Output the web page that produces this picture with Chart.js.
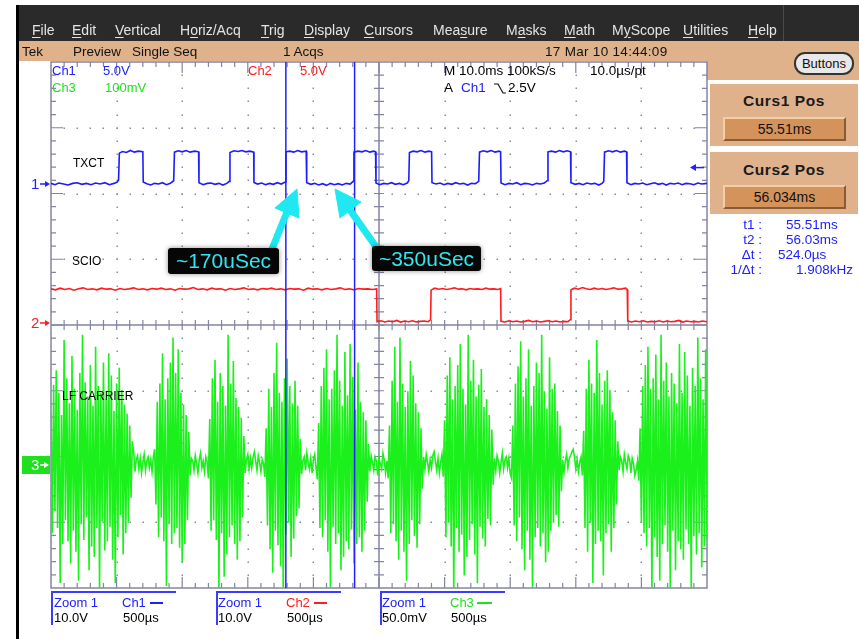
<!DOCTYPE html>
<html>
<head>
<meta charset="utf-8">
<script src="https://cdn.jsdelivr.net/npm/chart.js@4.4.1/dist/chart.umd.min.js"></script>
<style>
  html, body { margin: 0; padding: 0; background: #fff; }
  #scope { position: relative; width: 859px; height: 639px; overflow: hidden;
           font-family: "Liberation Sans", Arial, sans-serif; }
  #plot { position: absolute; left: 0; top: 0; z-index: 1; }
  .t { position: absolute; white-space: nowrap; line-height: 16px; font-size: 13px; z-index: 2; }
  #frameL { position: absolute; left: 16px; top: 5px; width: 3px; height: 634px; background: #000; z-index: 3; }
  #menu { position: absolute; left: 16px; top: 5px; width: 843px; height: 36px; background: #2a2a2a; }
  #menu .t { color: #e4e4e4; font-size: 14px; top: 17px; }
  #menu u { text-decoration: underline; text-underline-offset: 2px; }
  #menuSep { position: absolute; left: 767px; top: 0; width: 1px; height: 36px; background: #4a4a4a; }
  #status { position: absolute; left: 19px; top: 41px; width: 840px; height: 20px; background: #dfb28c; }
  #status .t { font-size: 13.5px; top: 3px; color: #111; }
  .panel { position: absolute; background: #dfb28c; }
  .title { position: absolute; left: 0; width: 100%; text-align: center; font-weight: bold;
           font-size: 15.5px; letter-spacing: 0.6px; color: #1a1a1a; line-height: 18px; }
  .valbox { position: absolute; left: 13px; width: 119px; height: 20px; background: #d5935c;
            border-top: 2px solid #f2cfa8; border-left: 2px solid #f2cfa8;
            border-right: 2px solid #8c5a30; border-bottom: 2px solid #8c5a30;
            text-align: center; font-size: 14px; line-height: 20px; color: #111; }
  #btn { position: absolute; left: 794px; top: 52px; width: 56px; height: 19px; border: 2px solid #333;
         border-radius: 11px; background: #e8e8e8; font-size: 13px; line-height: 19px; text-align: center; color: #111; }
  .blue { color: #2020ff; }
  .red { color: #ff1c1c; }
  .green { color: #1fe01f; }
  .zbox { position: absolute; top: 591px; width: 123px; height: 32px;
          border-top: 2px solid #3c3cff; border-left: 2px solid #3c3cff; }
  .dash { position: absolute; height: 2px; }
  .callout { position: absolute; background: #060606; border-radius: 3px; z-index: 6;
             box-shadow: 0 0 5px rgba(0,0,0,0.45); color: #2fe6ee; font-size: 21px;
             line-height: 26px; text-align: center; }
  #ann { position: absolute; left: 0; top: 0; z-index: 5; pointer-events: none; }
  .mk { position: absolute; font-size: 15px; line-height: 16px; z-index: 2; }
  #m3 { position: absolute; left: 22px; top: 456px; width: 28px; height: 18px; background: #1fe01f; z-index: 2; }
</style>
</head>
<body>
<div id="scope">
  <div id="menu">
    <span class="t" style="left:16px"><u>F</u>ile</span>
    <span class="t" style="left:56px"><u>E</u>dit</span>
    <span class="t" style="left:99px"><u>V</u>ertical</span>
    <span class="t" style="left:164px">H<u>o</u>riz/Acq</span>
    <span class="t" style="left:245px"><u>T</u>rig</span>
    <span class="t" style="left:288px"><u>D</u>isplay</span>
    <span class="t" style="left:348px"><u>C</u>ursors</span>
    <span class="t" style="left:417px">Mea<u>s</u>ure</span>
    <span class="t" style="left:490px">M<u>a</u>sks</span>
    <span class="t" style="left:548px"><u>M</u>ath</span>
    <span class="t" style="left:596px">M<u>y</u>Scope</span>
    <span class="t" style="left:667px"><u>U</u>tilities</span>
    <span class="t" style="left:732px"><u>H</u>elp</span>
    <div id="menuSep"></div>
  </div>
  <div id="status">
    <span class="t" style="left:3px">Tek</span>
    <span class="t" style="left:54px">Preview</span>
    <span class="t" style="left:113px">Single Seq</span>
    <span class="t" style="left:264px">1 Acqs</span>
    <span class="t" style="left:526px;letter-spacing:0.3px">17 Mar 10 14:44:09</span>
  </div>
  <div class="panel" style="left:707px;top:61px;width:152px;height:19px"></div>
  <div id="btn">Buttons</div>
  <div class="panel" style="left:710px;top:84px;width:148px;height:62px">
    <div class="title" style="top:8px">Curs1 Pos</div>
    <div class="valbox" style="top:33px">55.51ms</div>
  </div>
  <div class="panel" style="left:710px;top:152px;width:148px;height:62px">
    <div class="title" style="top:9px">Curs2 Pos</div>
    <div class="valbox" style="top:33px">56.034ms</div>
  </div>

  <span class="t blue" style="left:722px;top:217px;width:40px;text-align:right;font-size:13.5px">t1 :</span>
  <span class="t blue" style="left:786px;top:217px;font-size:13.5px">55.51ms</span>
  <span class="t blue" style="left:722px;top:232px;width:40px;text-align:right;font-size:13.5px">t2 :</span>
  <span class="t blue" style="left:786px;top:232px;font-size:13.5px">56.03ms</span>
  <span class="t blue" style="left:722px;top:247px;width:40px;text-align:right;font-size:13.5px">Δt :</span>
  <span class="t blue" style="left:778px;top:247px;font-size:13.5px">524.0µs</span>
  <span class="t blue" style="left:712px;top:262px;width:50px;text-align:right;font-size:13.5px">1/Δt :</span>
  <span class="t blue" style="left:796px;top:262px;font-size:13.5px">1.908kHz</span>

  <canvas id="plot" width="859" height="639"></canvas>
  <div id="frameL"></div>

  <!-- readouts inside the graticule -->
  <span class="t blue" style="left:52px;top:63px">Ch1</span>
  <span class="t blue" style="left:103px;top:63px">5.0V</span>
  <span class="t red" style="left:248px;top:63px">Ch2</span>
  <span class="t red" style="left:300px;top:63px">5.0V</span>
  <span class="t green" style="left:52px;top:80px">Ch3</span>
  <span class="t green" style="left:105px;top:80px">100mV</span>
  <span class="t" style="left:444px;top:63px;font-size:13.5px">M 10.0ms 100kS/s</span>
  <span class="t" style="left:590px;top:63px;font-size:13.5px">10.0µs/pt</span>
  <span class="t" style="left:444px;top:80px;font-size:13.5px">A</span>
  <span class="t blue" style="left:461px;top:80px;font-size:13.5px">Ch1</span>
  <span class="t" style="left:508px;top:80px;font-size:13.5px">2.5V</span>
  <span class="t" style="left:73px;top:155px;font-size:12px">TXCT</span>
  <span class="t" style="left:72px;top:253px;font-size:12px">SCIO</span>
  <span class="t" style="left:62px;top:388px;font-size:12px">LF CARRIER</span>

  <!-- channel ground markers -->
  <span class="mk blue" style="left:31px;top:176px">1</span>
  <span class="mk red" style="left:31px;top:315px">2</span>
  <div id="m3"><span class="mk" style="left:9px;top:1px;color:#fff">3</span></div>

  <!-- zoom readouts -->
  <div class="zbox" style="left:51px"></div>
  <span class="t blue" style="left:54px;top:595px">Zoom 1</span>
  <span class="t blue" style="left:122px;top:595px">Ch1</span>
  <div class="dash" style="left:150px;top:602px;width:13px;background:#2020ff"></div>
  <span class="t" style="left:54px;top:610px">10.0V</span>
  <span class="t" style="left:123px;top:610px">500µs</span>

  <div class="zbox" style="left:216px"></div>
  <span class="t blue" style="left:218px;top:595px">Zoom 1</span>
  <span class="t red" style="left:286px;top:595px">Ch2</span>
  <div class="dash" style="left:314px;top:602px;width:13px;background:#ff1c1c"></div>
  <span class="t" style="left:218px;top:610px">10.0V</span>
  <span class="t" style="left:287px;top:610px">500µs</span>

  <div class="zbox" style="left:380px"></div>
  <span class="t blue" style="left:382px;top:595px">Zoom 1</span>
  <span class="t green" style="left:450px;top:595px">Ch3</span>
  <div class="dash" style="left:477px;top:602px;width:15px;background:#1fe01f"></div>
  <span class="t" style="left:382px;top:610px">50.0mV</span>
  <span class="t" style="left:451px;top:610px">500µs</span>

  <svg id="ann" width="859" height="639">
    <!-- ground marker arrows -->
    <g stroke-width="1.5">
      <line x1="40" y1="184" x2="47" y2="184" stroke="#2020ff"/>
      <polygon points="50,184 45,181 45,187" fill="#2020ff"/>
      <line x1="40" y1="323" x2="47" y2="323" stroke="#ff1c1c"/>
      <polygon points="50,323 45,320 45,326" fill="#ff1c1c"/>
      <line x1="40" y1="465" x2="46" y2="465" stroke="#fff"/>
      <polygon points="49,465 44,462 44,468" fill="#fff"/>
    </g>
    <!-- falling-slope symbol -->
    <polyline points="494,84 498,84 503,93 506,93" fill="none" stroke="#111" stroke-width="1.2"/>
    <!-- callout arrows -->
    <g fill="#1fe8f0" stroke="#1fe8f0">
      <line x1="270" y1="254" x2="287" y2="212" stroke-width="7"/>
      <polygon points="297,189 299,218 275,208" stroke-width="1"/>
      <line x1="379" y1="251" x2="350" y2="210" stroke-width="7"/>
      <polygon points="335,189 361,202 340,218" stroke-width="1"/>
    </g>
  </svg>

  <div class="callout" style="left:168px;top:248px;width:111px;height:26px">~170uSec</div>
  <div class="callout" style="left:372px;top:246px;width:109px;height:25px">~350uSec</div>
</div>

<script>
// Horizontal setup: 10 divisions of 500 µs, left edge of the record window
const screenStartMs = 53.72;
const screenSpanMs = 5.0;
const samplePeriodUs = 10;            // 10.0 µs/pt
const cursorPosMs = [55.51, 56.034];  // Curs1 / Curs2
const triggerLevelV = 2.5;            // A Ch1 falling 2.5V

// Vertical setup (volts per division, ground position in divisions from centre)
const ch1VoltsPerDiv = 10;
const ch1GroundDiv = 2.144;
const ch2VoltsPerDiv = 10;
const ch2GroundDiv = 0.03;
const ch3mVPerDiv = 50;
const ch3GroundDiv = -2.129;

// Ch1 TXCT: [time µs from left edge, volts]
const ch1Points = [
  [0,0.1],[30,-0.1],[60,0.15],[95,0],[130,-0.15],[165,0.1],[200,0.2],[235,-0.05],[270,0.1],[305,-0.1],
  [340,0.15],[375,0],[410,0.2],[445,-0.1],[480,0.1],[505,0.3],[515,0.6],
  [521,4.7],[545,4.95],[575,4.8],[605,5.1],[635,4.85],[665,5.0],[700,4.9],
  [703,0.3],[730,0.05],[760,-0.15],[790,0.1],[820,0],[850,0.2],[880,-0.1],[910,0.1],[935,0.5],
  [941,4.85],[970,5.05],[1000,4.9],[1030,5.1],[1060,4.85],[1095,5.0],[1125,4.9],
  [1128,0.2],[1160,-0.1],[1190,0.1],[1220,0.15],[1250,-0.05],[1280,0.1],[1310,-0.15],[1340,0.1],[1358,0.4],
  [1364,4.8],[1395,5.05],[1425,4.95],[1455,5.1],[1485,4.9],[1515,5.0],[1545,4.85],
  [1547,0.25],[1575,0],[1605,0.15],[1635,-0.1],[1665,0.1],[1695,-0.05],[1725,0.2],[1755,0],[1785,0.3],
  [1791,4.9],[1820,5.0],[1850,4.85],[1880,5.1],[1910,4.9],[1945,5.0],
  [1949,0.2],[1980,-0.05],[2010,0.1],[2040,-0.15],[2070,0.05],[2100,-0.2],[2130,0.1],[2160,-0.1],[2190,0.05],
  [2220,-0.15],[2250,0.1],[2280,0],[2303,0.4],
  [2309,4.85],[2340,5.0],[2370,4.9],[2400,5.1],[2430,4.85],[2460,5.0],[2474,4.9],
  [2477,0.15],[2505,-0.1],[2535,0.1],[2565,0],[2595,0.2],[2625,-0.05],[2655,0.1],[2685,-0.1],[2715,0.15],[2727,0.5],
  [2732,4.8],[2760,5.0],[2790,4.9],[2820,5.1],[2850,4.85],[2880,5.0],[2901,4.9],
  [2904,0.2],[2935,0],[2965,0.15],[2995,-0.1],[3025,0.1],[3055,-0.05],[3085,0.2],[3115,0],[3145,0.1],
  [3175,-0.15],[3205,0.1],[3235,0.05],[3260,0.4],
  [3266,4.85],[3295,5.05],[3325,4.9],[3355,5.1],[3385,4.85],[3415,5.0],[3427,4.9],
  [3430,0.15],[3460,-0.1],[3490,0.1],[3520,0],[3550,0.2],[3580,-0.1],[3610,0.1],[3640,0.05],[3670,-0.15],
  [3700,0.1],[3730,0],[3760,0.15],[3782,0.5],
  [3788,4.9],[3815,5.0],[3845,4.85],[3875,5.1],[3905,4.9],[3935,5.05],[3960,4.9],
  [3963,0.2],[3995,-0.05],[4025,0.1],[4055,-0.1],[4085,0.15],[4115,0],[4145,0.1],[4175,-0.15],[4200,0.1],[4213,0.4],
  [4219,4.85],[4250,5.05],[4280,4.9],[4310,5.1],[4340,4.85],[4370,5.0],[4387,4.9],
  [4390,0.2],[4420,-0.1],[4450,0.1],[4480,0],[4510,0.15],[4540,-0.1],[4570,0.05],[4600,0.2],[4630,-0.05],
  [4660,0.1],[4690,-0.15],[4720,0.1],[4750,0],[4780,0.15],[4810,-0.1],[4840,0.1],[4870,0.05],[4900,-0.1],
  [4930,0.15],[4960,0],[5000,0.1]
];

// Ch2 SCIO: [time µs from left edge, volts]
const ch2Points = [
  [0,5.2],[35,5.05],[70,5.3],[105,5.1],[140,5.25],[175,5.0],[210,5.2],[245,5.35],[280,5.1],[315,5.2],
  [350,5.05],[385,5.3],[420,5.15],[455,5.2],[490,5.0],[525,5.25],[560,5.1],[595,5.2],[630,5.35],[665,5.1],
  [700,5.2],[735,5.05],[770,5.25],[805,5.15],[840,5.3],[875,5.1],[910,5.2],[945,5.0],[980,5.25],[1015,5.15],
  [1050,5.2],[1085,5.4],[1120,5.1],[1155,5.2],[1190,5.05],[1225,5.3],[1260,5.15],[1295,5.2],[1330,5.0],
  [1365,5.25],[1400,5.1],[1435,5.2],[1470,5.35],[1505,5.1],[1540,5.2],[1575,5.05],[1610,5.25],[1645,5.15],
  [1680,5.3],[1715,5.1],[1750,5.2],[1785,5.05],[1820,5.25],[1855,5.15],[1890,5.2],[1925,5.0],[1960,5.3],
  [1995,5.15],[2030,5.2],[2065,5.05],[2100,5.25],[2135,5.1],[2170,5.2],[2205,5.35],[2240,5.1],[2275,5.2],
  [2310,5.05],[2345,5.25],[2380,5.15],[2415,5.2],[2450,5.1],[2482,5.2],
  [2485,0.2],[2515,0.35],[2545,0.15],[2575,0.3],[2605,0.2],[2635,0.4],[2665,0.15],[2695,0.3],[2725,0.2],
  [2755,0.35],[2785,0.15],[2815,0.25],[2845,0.3],[2875,0.2],[2893,0.5],
  [2897,5.0],[2925,5.3],[2955,5.15],[2985,5.25],[3015,5.1],[3045,5.2],[3075,5.35],[3105,5.15],[3135,5.2],
  [3165,5.05],[3195,5.25],[3225,5.15],[3255,5.2],[3285,5.1],[3315,5.3],[3345,5.15],[3375,5.2],[3405,5.1],[3427,5.25],
  [3430,0.25],[3460,0.15],[3490,0.35],[3520,0.2],[3550,0.3],[3580,0.15],[3610,0.25],[3640,0.4],[3670,0.2],
  [3700,0.3],[3730,0.15],[3760,0.25],[3790,0.35],[3820,0.2],[3850,0.3],[3880,0.15],[3910,0.25],[3940,0.2],[3958,0.5],
  [3963,5.05],[3990,5.3],[4020,5.15],[4050,5.4],[4080,5.2],[4110,5.1],[4140,5.3],[4170,5.15],[4200,5.25],
  [4230,5.1],[4260,5.2],[4290,5.35],[4320,5.15],[4350,5.2],[4380,5.3],[4392,5.1],
  [4396,0.3],[4425,0.15],[4455,0.3],[4485,0.2],[4515,0.35],[4545,0.15],[4575,0.25],[4605,0.2],[4635,0.35],
  [4665,0.15],[4695,0.3],[4725,0.2],[4755,0.25],[4785,0.4],[4815,0.15],[4845,0.3],[4875,0.2],[4905,0.25],
  [4935,0.15],[4965,0.3],[5000,0.2]
];

// Ch3 LF carrier, one sample per 10 µs (mV)
const ch3mV = [
  40,-52,61,-35,72,-48,55,-90,38,-60,95,-42,66,-58,47,-75,83,-50,58,-66,42,-88,70,-45,99,-57,63,-40,52,-80,
  76,-62,45,-70,90,-48,60,-95,55,-43,78,-65,50,-58,85,-47,68,-72,41,-90,62,-55,74,-38,57,-68,46,-52,39,-44,
  30,-25,18,
  10,-5,4,7,-3,5,-6,2,8,-4,3,6,-2,4,-5,6,12,
  -30,48,-55,62,-40,85,-58,50,-92,66,-45,78,-60,97,-52,70,-48,88,-63,55,-74,46,-60,38,-42,25,
  -8,5,3,-4,7,1,-6,4,9,-2,3,-5,6,2,-10,
  35,-50,66,-42,80,-57,48,-96,70,-52,60,-85,45,-68,99,-55,62,-46,79,-60,51,-72,44,-58,36,-40,22,
  -6,4,8,-3,5,-2,6,10,3,-4,7,2,-5,4,1,-9,
  28,-46,58,-64,44,-82,70,-50,93,-61,55,-77,48,-98,66,-53,81,-44,60,-70,47,-56,64,-39,45,-33,20,
  -7,3,6,-4,9,2,-3,5,-6,4,8,-2,-11,
  32,-48,60,-55,74,-42,88,-66,50,-95,58,-47,72,-60,99,-52,64,-80,45,-70,86,-58,53,-64,92,-49,67,-75,42,-60,
  78,-55,48,-66,40,-50,34,-28,16,
  -5,7,2,-4,6,3,-8,5,1,-3,9,4,-6,3,-10,
  30,-52,64,-45,90,-58,48,-72,97,-50,62,-66,44,-88,56,-60,79,-42,68,-54,47,-63,40,-45,28,-18,
  6,-3,8,2,-5,4,-2,7,10,3,-4,5,-6,2,8,-9,
  34,-55,68,-44,82,-62,50,-98,60,-48,76,-66,92,-53,58,-84,46,-70,99,-57,64,-45,80,-68,52,-90,61,-47,73,-56,
  44,-62,50,-41,38,-46,27,-15,
  5,-4,7,3,-6,2,9,-3,4,6,-2,5,-7,-10,
  30,-46,62,-58,75,-40,94,-64,52,-80,66,-50,88,-72,45,-96,60,-55,78,-48,70,-62,99,-52,56,-74,43,-66,82,-50,
  58,-44,62,-38,41,-47,30,-20,
  4,-6,3,8,-2,5,7,10,12,6,-3,4,-5,2,6,-8,
  26,-48,58,-66,80,-44,62,-90,55,-60,95,-50,70,-58,46,-84,64,-52,72,-45,57,-66,40,-48,34,-30,18,
  -4,6,3,-5,8,2,-3,7,4,-6,5,1,-8,-4,3,-12,
  28,-44,60,-52,76,-62,90,-48,58,-98,66,-55,84,-70,50,-88,99,-60,64,-46,78,-66,52,-94,70,-50,62,-80,47,-58,
  92,-64,55,-72,86,-49,68,-60,45,-96,74,-54,60,-68,97,-52,66,-78,50,-62,88,-56
];

const toMs = us => screenStartMs + us / 1000;
const ch1Data = ch1Points.map(([t, v]) => ({ x: toMs(t), y: ch1GroundDiv + v / ch1VoltsPerDiv }));
const ch2Data = ch2Points.map(([t, v]) => ({ x: toMs(t), y: ch2GroundDiv + v / ch2VoltsPerDiv }));
const ch3Data = ch3mV.map((v, i) => ({ x: toMs(i * samplePeriodUs), y: ch3GroundDiv + v / ch3mVPerDiv }));

// Tek-style graticule: dotted divisions, solid frame and centre cross with minor ticks
const graticule = {
  id: 'graticule',
  beforeDatasetsDraw(chart) {
    const { ctx, chartArea: a } = chart;
    const L = a.left, R = a.right, T = a.top, B = a.bottom;
    const dx = (R - L) / 10, dy = (B - T) / 8;
    const cx = L + 5 * dx, cy = T + 4 * dy;
    ctx.save();
    ctx.fillStyle = '#8c8ca0';
    for (let i = 1; i < 10; i++) {
      if (i === 5) continue;
      const gx = Math.round(L + i * dx);
      for (let j = 1; j < 40; j++) ctx.fillRect(gx - 0.5, Math.round(T + j * dy / 5) - 0.5, 1.5, 1.5);
    }
    for (let j = 1; j < 8; j++) {
      if (j === 4) continue;
      const gy = Math.round(T + j * dy);
      for (let i = 1; i < 50; i++) ctx.fillRect(Math.round(L + i * dx / 5) - 0.5, gy - 0.5, 1.5, 1.5);
    }
    ctx.strokeStyle = '#8484a4';
    ctx.lineWidth = 1.5;
    ctx.strokeRect(L, T, R - L, B - T);
    ctx.beginPath();
    ctx.moveTo(L, cy); ctx.lineTo(R, cy);
    ctx.moveTo(cx, T); ctx.lineTo(cx, B);
    ctx.stroke();
    ctx.lineWidth = 1.2;
    ctx.beginPath();
    for (let i = 1; i < 50; i++) {
      const x = L + i * dx / 5, major = i % 5 === 0;
      const len = major ? 11 : 5;
      ctx.moveTo(x, T); ctx.lineTo(x, T + len);
      ctx.moveTo(x, B); ctx.lineTo(x, B - len);
      ctx.moveTo(x, cy - 5); ctx.lineTo(x, cy + 5);
    }
    for (let j = 1; j < 40; j++) {
      const y = T + j * dy / 5, major = j % 5 === 0;
      const len = major ? 12 : 5;
      ctx.moveTo(L, y); ctx.lineTo(L + len, y);
      ctx.moveTo(R, y); ctx.lineTo(R - len, y);
      ctx.moveTo(cx - 5, y); ctx.lineTo(cx + 5, y);
    }
    ctx.stroke();
    ctx.restore();
  },
  afterDatasetsDraw(chart) {
    const { ctx, chartArea: a, scales: { x, y } } = chart;
    ctx.save();
    // cursors
    ctx.strokeStyle = '#2222ff';
    ctx.lineWidth = 1.5;
    ctx.beginPath();
    cursorPosMs.forEach(ms => {
      const px = x.getPixelForValue(ms);
      ctx.moveTo(px, a.top); ctx.lineTo(px, a.bottom);
    });
    ctx.stroke();
    // trigger level marker on the right edge
    const ty = y.getPixelForValue(ch1GroundDiv + triggerLevelV / ch1VoltsPerDiv);
    ctx.fillStyle = '#2222ff';
    ctx.beginPath();
    ctx.moveTo(a.right - 3, ty); ctx.lineTo(a.right - 12, ty);
    ctx.stroke();
    ctx.beginPath();
    ctx.moveTo(a.right - 17, ty); ctx.lineTo(a.right - 11, ty - 3.5); ctx.lineTo(a.right - 11, ty + 3.5);
    ctx.closePath(); ctx.fill();
    ctx.restore();
  }
};

new Chart(document.getElementById('plot'), {
  type: 'line',
  data: {
    datasets: [
      { data: ch3Data, borderColor: '#1cf01c', borderWidth: 1.6, clip: 0 },
      { data: ch2Data, borderColor: '#ff1c1c', borderWidth: 1.6, clip: 0 },
      { data: ch1Data, borderColor: '#1c1cff', borderWidth: 1.6, clip: 0 }
    ]
  },
  options: {
    responsive: false,
    devicePixelRatio: 1,
    animation: false,
    events: [],
    parsing: false,
    layout: { padding: { left: 51, top: 62, right: 152, bottom: 51 } },
    elements: { point: { radius: 0 }, line: { tension: 0 } },
    plugins: { legend: { display: false }, tooltip: { enabled: false } },
    scales: {
      x: { type: 'linear', min: screenStartMs, max: screenStartMs + screenSpanMs, display: false },
      y: { type: 'linear', min: -4, max: 4, display: false }
    }
  },
  plugins: [graticule]
});
</script>
</body>
</html>
